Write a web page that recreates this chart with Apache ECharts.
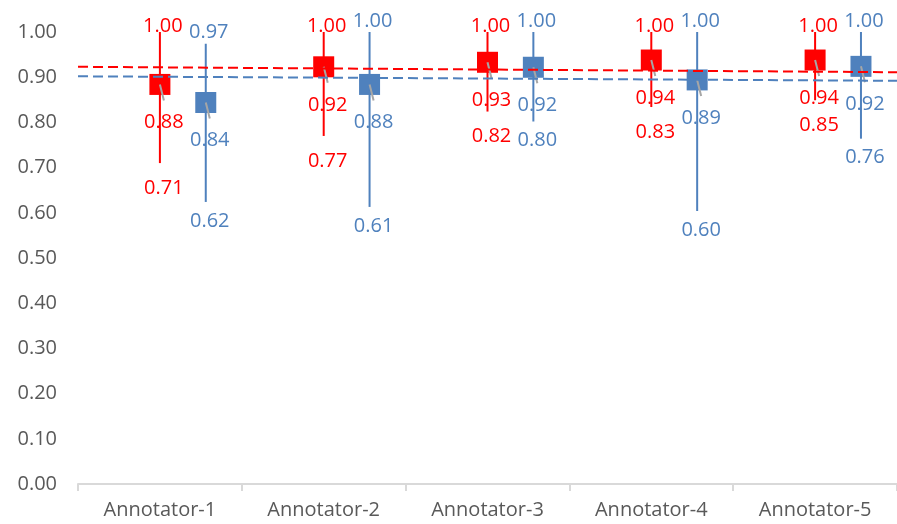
<!DOCTYPE html>
<html>
<head>
<meta charset="utf-8">
<script src="https://cdn.jsdelivr.net/npm/echarts@6/dist/echarts.min.js"></script>
<style>
    html, body { margin: 0; padding: 0; background: #fff; }
    #main { width: 897px; height: 524px; }
</style>
</head>
<body>
<div id="main"></div>
<script>
const categories = ['Annotator-1', 'Annotator-2', 'Annotator-3', 'Annotator-4', 'Annotator-5']

// red group: mean, min, max
const redMean = [0.884, 0.923, 0.933, 0.938, 0.938]
const redLow = [0.71, 0.77, 0.824, 0.834, 0.849]
const redHigh = [1.00, 1.00, 1.00, 1.00, 1.00]

// blue group: mean, min, max
const blueMean = [0.844, 0.884, 0.922, 0.894, 0.924]
const blueLow = [0.624, 0.613, 0.802, 0.604, 0.764]
const blueHigh = [0.974, 1.00, 1.00, 1.00, 1.00]

// dashed reference lines (value at left edge, value at right edge)
const redTrend = [0.923, 0.911]
const blueTrend = [0.902, 0.892]

const RED = '#FF0000'
const BLUE = '#4F81BD'
const FONT = '20px "Open Sans"'

const fmt = (v) => Number(v).toFixed(2)

function build(mean, low, high) {
    return mean.map((m, i) => [i, m, low[i], high[i]])
}

function makeRender(color, shift, topGap, lowGap) {
    return function (params, api) {
        const x = api.value(0) + 0.5 + shift
        const pm = api.coord([x, api.value(1)])
        const pl = api.coord([x, api.value(2)])
        const ph = api.coord([x, api.value(3)])
        return {
            type: 'group',
            children: [
                {
                    type: 'line',
                    shape: { x1: pl[0], y1: pl[1], x2: ph[0], y2: ph[1] },
                    style: { stroke: color, lineWidth: 2 }
                },
                {
                    type: 'rect',
                    shape: { x: pm[0] - 10.5, y: pm[1] - 10.5, width: 21, height: 21 },
                    style: { fill: color }
                },
                {
                    type: 'line',
                    shape: { x1: pm[0], y1: pm[1], x2: pm[0] + 4, y2: pm[1] + 16 },
                    style: { stroke: '#A6A6A6', lineWidth: 2 }
                },
                {
                    type: 'text',
                    style: { text: fmt(api.value(3)), x: ph[0] + 3, y: ph[1] - topGap, align: 'center', verticalAlign: 'middle', fill: color, font: FONT }
                },
                {
                    type: 'text',
                    style: { text: fmt(api.value(1)), x: pm[0] + 4, y: pm[1] + 38, align: 'center', verticalAlign: 'middle', fill: color, font: FONT }
                },
                {
                    type: 'text',
                    style: { text: fmt(api.value(2)), x: pl[0] + 4, y: pl[1] + lowGap, align: 'center', verticalAlign: 'middle', fill: color, font: FONT }
                }
            ]
        }
    }
}

const chart = echarts.init(document.getElementById('main'))

chart.setOption({
    animation: false,
    grid: { left: 78, top: 32, width: 825, bottom: 40 },
    xAxis: [
        {
            type: 'category',
            data: categories,
            boundaryGap: true,
            axisLine: { lineStyle: { color: '#D9D9D9', width: 2 } },
            axisTick: { show: true, length: 7, lineStyle: { color: '#D9D9D9', width: 2 } },
            axisLabel: { color: '#595959', fontSize: 20, fontFamily: 'Open Sans', margin: 16 },
            splitLine: { show: false }
        },
        {
            type: 'value',
            min: 0,
            max: 5,
            show: false
        }
    ],
    yAxis: {
        type: 'value',
        min: 0,
        max: 1,
        interval: 0.1,
        axisLine: { show: false },
        axisTick: { show: false },
        splitLine: { show: false },
        axisLabel: {
            color: '#595959',
            fontSize: 20,
            fontFamily: 'Open Sans',
            margin: 21,
            formatter: (v) => v.toFixed(2)
        }
    },
    series: [
        {
            type: 'custom',
            xAxisIndex: 1,
            clip: false,
            renderItem: makeRender(RED, 0, 6, 25),
            encode: { x: 0, y: [1, 2, 3] },
            data: build(redMean, redLow, redHigh)
        },
        {
            type: 'custom',
            xAxisIndex: 1,
            clip: false,
            renderItem: makeRender(BLUE, 0.28, 11, 19),
            encode: { x: 0, y: [1, 2, 3] },
            data: build(blueMean, blueLow, blueHigh)
        },
        {
            type: 'line',
            xAxisIndex: 1,
            z: 5,
            symbol: 'none',
            silent: true,
            lineStyle: { color: RED, width: 2, type: [10, 5] },
            data: [[0, redTrend[0]], [5, redTrend[1]]]
        },
        {
            type: 'line',
            xAxisIndex: 1,
            z: 5,
            symbol: 'none',
            silent: true,
            lineStyle: { color: BLUE, width: 2, type: [10, 5] },
            data: [[0, blueTrend[0]], [5, blueTrend[1]]]
        }
    ]
})

window.addEventListener('resize', () => {
    chart.resize()
})
</script>
</body>
</html>
